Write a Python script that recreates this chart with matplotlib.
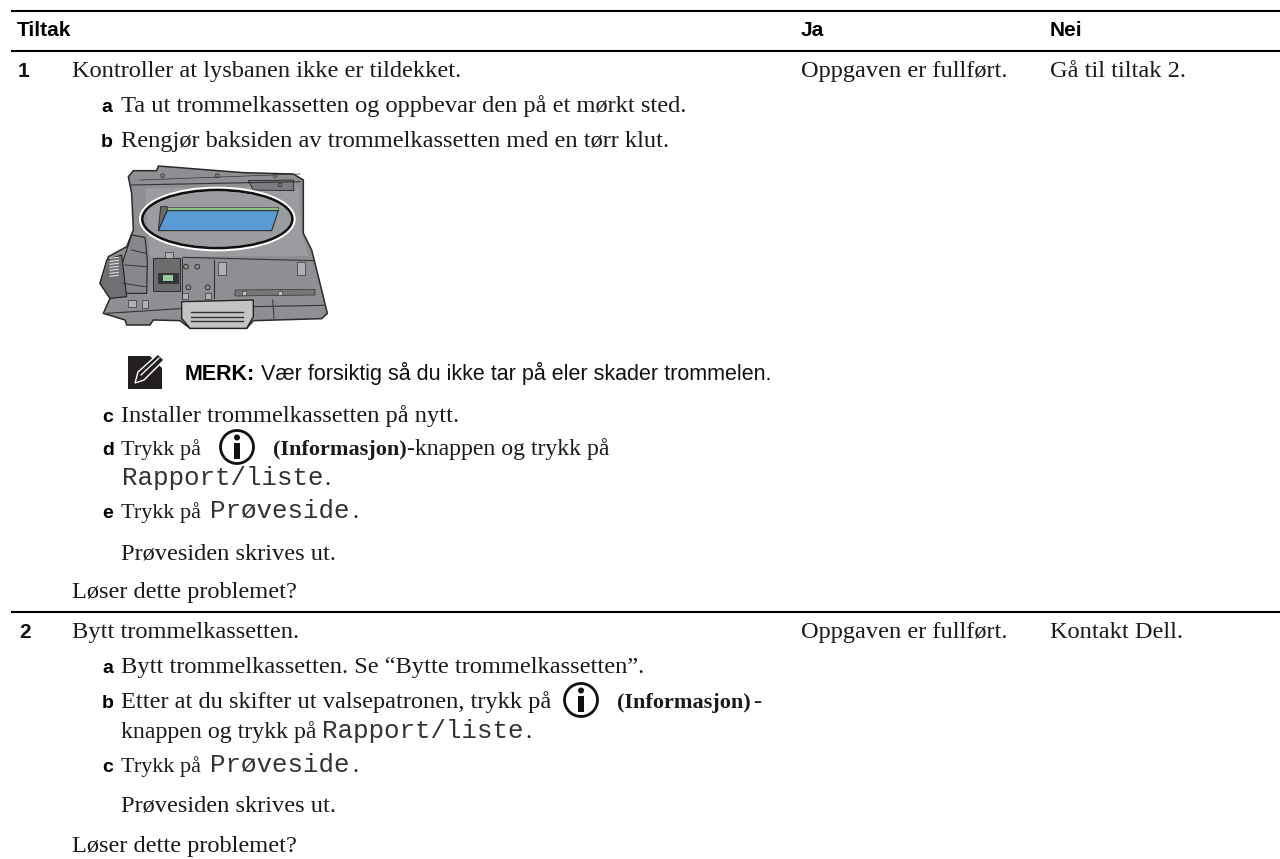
import matplotlib
matplotlib.use('Agg')
import matplotlib.pyplot as plt
from matplotlib.patches import Circle, Ellipse, Polygon, Rectangle

SERIF = ['Liberation Serif', 'DejaVu Serif']
SANS = ['Liberation Sans', 'DejaVu Sans']
MONO = ['Liberation Mono', 'DejaVu Sans Mono']
BODY_SIZE = 17.6

# table text
headers = ['Tiltak', 'Ja', 'Nei']
row_numbers = ['1', '2']
yes_answers = ['Oppgaven er fullført.', 'Oppgaven er fullført.']
no_answers = ['Gå til tiltak 2.', 'Kontakt Dell.']
step_letters = ['a', 'b', 'c', 'd', 'e', 'a', 'b', 'c']
serif_lines = [
    'Kontroller at lysbanen ikke er tildekket.',
    'Ta ut trommelkassetten og oppbevar den på et mørkt sted.',
    'Rengjør baksiden av trommelkassetten med en tørr klut.',
    'Installer trommelkassetten på nytt.',
    'Trykk på',
    '-knappen og trykk på',
    '.',
    'Trykk på',
    '.',
    'Prøvesiden skrives ut.',
    'Løser dette problemet?',
    'Bytt trommelkassetten.',
    'Bytt trommelkassetten. Se “Bytte trommelkassetten”.',
    'Etter at du skifter ut valsepatronen, trykk på',
    '-',
    'knappen og trykk på',
    '.',
    'Trykk på',
    '.',
    'Prøvesiden skrives ut.',
    'Løser dette problemet?',
]
bold_serif = ['(Informasjon)', '(Informasjon)']
mono_lines = ['Rapport/liste', 'Prøveside', 'Rapport/liste', 'Prøveside']
note_label = 'MERK:'
note_text = 'Vær forsiktig så du ikke tar på eler skader trommelen.'

# layout, pixel positions read from the page
rule_y = [11, 51, 612]
header_x = [17, 801, 1050]
header_y = 36
row_y = [77, 638]
row_x = [18, 19]
step_x = [101, 101, 102, 102, 102, 102, 102, 102]
step_y = [112, 147, 422, 455, 518, 673, 708, 772]
serif_x = [72, 121, 121, 121, 121, 407, 324, 121, 352, 121, 72,
           72, 121, 121, 753, 121, 525, 121, 352, 121, 72]
serif_y = [77, 112, 147, 422, 455, 455, 485, 518, 518, 559, 598,
           638, 673, 708, 708, 738, 738, 772, 772, 812, 852]
# short runs that sit tighter in the original
serif_sizes = {4: 16, 5: 17.1, 7: 16, 15: 17.2, 17: 16}
bold_x = [273, 617]
bold_y = [455, 708]
mono_x = [122, 210, 322, 210]
mono_y = [485, 518, 738, 772]
icon_xy = [(237, 447), (581, 700)]


def draw_photo(ax):
    def pts(seq):
        return [(90 + x / 3, 150 + y / 3) for x, y in seq]

    def line(seq, w=0.7, c='#333333'):
        ax.plot(*zip(*pts(seq)), color=c, lw=w)

    body = [(115, 80), (130, 62), (200, 62), (205, 48), (460, 68), (610, 72), (640, 90), (640, 250),
            (665, 300), (690, 400), (712, 490), (695, 506), (490, 512), (470, 535), (300, 535), (270, 512),
            (190, 510), (180, 525), (110, 525), (105, 510), (40, 490), (60, 445), (30, 400), (55, 320),
            (110, 290), (130, 240), (125, 130)]
    ax.add_patch(Polygon(pts(body), fc='#8e8f92', ec='#2a2a2a', lw=1.1))
    ax.add_patch(Polygon(pts([(165, 115), (625, 108), (635, 250), (655, 318), (180, 320)]), fc='#9b9c9f', ec='none'))
    line([(125, 105), (630, 95)], 0.8)
    line([(150, 90), (630, 72)], 0.5)
    line([(50, 490), (270, 476)], 0.8)
    line([(490, 470), (700, 466)], 0.8)
    line([(280, 322), (670, 332)], 0.8)
    line([(372, 330), (372, 445)], 0.8)
    line([(548, 450), (552, 505)], 0.7)
    # top bracket
    ax.add_patch(Polygon(pts([(475, 92), (610, 90), (612, 122), (490, 120)]), fc='#7b7c7f', ec='#222222', lw=0.6))
    for hx, hy in [(218, 77), (382, 77), (555, 77), (570, 105)]:
        px, py = pts([(hx, hy)])[0]
        ax.add_patch(Circle((px, py), 1.8, fc='none', ec='#333333', lw=0.6))
    # recess and blue window
    ax.add_patch(Polygon(pts([(205, 242), (212, 170), (232, 170), (232, 182)]), fc='#6b6b6e', ec='#222222', lw=0.6))
    ax.add_patch(Polygon(pts([(232, 170), (565, 170), (565, 182), (232, 182)]), fc='#8fbf80', ec='#444444', lw=0.5))
    ax.add_patch(Polygon(pts([(205, 242), (232, 182), (565, 182), (545, 242)]), fc='#5b9bd5', ec='#222222', lw=0.7))
    # ring
    cx, cy = pts([(382, 207)])[0]
    ax.add_patch(Ellipse((cx, cy), 152, 60, fc='none', ec='white', lw=3.4))
    ax.add_patch(Ellipse((cx, cy), 150, 58, fc='none', ec='#111111', lw=1.9))
    # gear and roller
    ax.add_patch(Polygon(pts([(125, 255), (165, 262), (172, 330), (170, 430), (100, 430), (90, 360)]),
                         fc='#87888b', ec='#222222', lw=0.8))
    ax.add_patch(Polygon(pts([(50, 330), (95, 315), (110, 440), (60, 445), (30, 400)]),
                         fc='#6f7073', ec='#222222', lw=0.8))
    line([(125, 300), (168, 310)], 0.7)
    line([(105, 345), (170, 350)], 0.7)
    line([(100, 400), (165, 410)], 0.7)
    for gy in range(325, 385, 9):
        line([(60, gy), (85, gy - 3)], 0.8, '#dddddd')
    # chip
    ax.add_patch(Polygon(pts([(190, 325), (270, 325), (270, 422), (190, 422)]), fc='#6d6d70', ec='#222222', lw=0.6))
    ax.add_patch(Polygon(pts([(205, 368), (268, 368), (268, 402), (205, 402)]), fc='#35353a', ec='none'))
    ax.add_patch(Polygon(pts([(218, 375), (248, 375), (248, 392), (218, 392)]), fc='#9cc9a0', ec='none'))
    # plate with holes and notches
    line([(275, 325), (275, 445)], 0.7)
    for bx, by, bw, bh in [(385, 335, 22, 40), (620, 335, 24, 40), (275, 430, 18, 18), (345, 430, 18, 18),
                           (225, 305, 25, 20), (155, 450, 18, 25), (115, 450, 22, 20)]:
        ax.add_patch(Rectangle(pts([(bx, by)])[0], bw / 3, bh / 3, fc='#b0b1b4', ec='#333333', lw=0.5))
    for sx, sy in [(288, 350), (322, 350), (295, 412), (353, 412)]:
        px, py = pts([(sx, sy)])[0]
        ax.add_patch(Circle((px, py), 2.4, fc='none', ec='#333333', lw=0.7))
    # slots bottom right
    ax.add_patch(Polygon(pts([(435, 420), (675, 418), (675, 435), (435, 438)]), fc='#77777a', ec='#333333', lw=0.5))
    for sx in [455, 565]:
        ax.add_patch(Rectangle(pts([(sx, 424)])[0], 4, 4, fc='#c4c4c6', ec='#333333', lw=0.4))
    # handle
    ax.add_patch(Polygon(pts([(275, 455), (490, 450), (490, 500), (470, 535), (300, 535), (275, 505)]),
                         fc='#c4c4c6', ec='#222222', lw=1.0))
    for hy in [486, 500, 514]:
        line([(303, hy), (460, hy)], 1.0)


def draw_note_icon(ax):
    ax.add_patch(Rectangle((128, 356), 34, 33, fc='#231f20', ec='none'))
    ax.add_patch(Polygon([(150, 356), (162, 356), (162, 368)], fc='white', ec='none'))
    ax.add_patch(Polygon([(135, 383), (138, 372), (158, 354), (164, 360), (144, 380)],
                         fc='#231f20', ec='white', lw=1.0))
    ax.plot([141, 159], [375, 358], color='white', lw=0.9)


def draw_info_icon(ax, x, y):
    ax.add_patch(Circle((x, y), 16.5, fc='white', ec='#111111', lw=2.0))
    ax.add_patch(Circle((x, y - 9.5), 3, fc='#111111', ec='none'))
    ax.add_patch(Rectangle((x - 2.8, y - 4), 5.6, 15.5, fc='#111111', ec='none'))


fig = plt.figure(figsize=(12.8, 8.59), dpi=100)
ax = fig.add_axes([0, 0, 1, 1])
ax.set_xlim(0, 1280)
ax.set_ylim(859, 0)
ax.axis('off')

for y in rule_y:
    ax.plot([11, 1280], [y, y], color='black', lw=1.5, solid_capstyle='butt')

for x, label in zip(header_x, headers):
    ax.text(x, header_y, label, family=SANS, fontweight='bold', fontsize=15, va='baseline')
for x, y, label in zip(row_x, row_y, row_numbers):
    ax.text(x, y, label, family=SANS, fontweight='bold', fontsize=15, va='baseline', color='#111111')
for y, yes, no in zip(row_y, yes_answers, no_answers):
    ax.text(header_x[1], y, yes, family=SERIF, fontsize=BODY_SIZE, va='baseline', color='#1a1a1a')
    ax.text(header_x[2], y, no, family=SERIF, fontsize=BODY_SIZE, va='baseline', color='#1a1a1a')
for x, y, label in zip(step_x, step_y, step_letters):
    ax.text(x, y, label, family=SANS, fontweight='bold', fontsize=14, va='baseline')
for i, (x, y, label) in enumerate(zip(serif_x, serif_y, serif_lines)):
    ax.text(x, y, label, family=SERIF, fontsize=serif_sizes.get(i, BODY_SIZE), va='baseline', color='#1a1a1a')
for x, y, label in zip(bold_x, bold_y, bold_serif):
    ax.text(x, y, label, family=SERIF, fontweight='bold', fontsize=16, va='baseline', color='#1a1a1a')
for x, y, label in zip(mono_x, mono_y, mono_lines):
    ax.text(x, y, label, family=MONO, fontsize=18.6, va='baseline', color='#333333')

ax.text(185, 380, note_label, family=SANS, fontweight='bold', fontsize=15.5, va='baseline')
ax.text(261, 380, note_text, family=SANS, fontsize=15.5, va='baseline', color='#111111')

draw_photo(ax)
draw_note_icon(ax)
for x, y in icon_xy:
    draw_info_icon(ax, x, y)

fig.savefig('out.png', dpi=100)
